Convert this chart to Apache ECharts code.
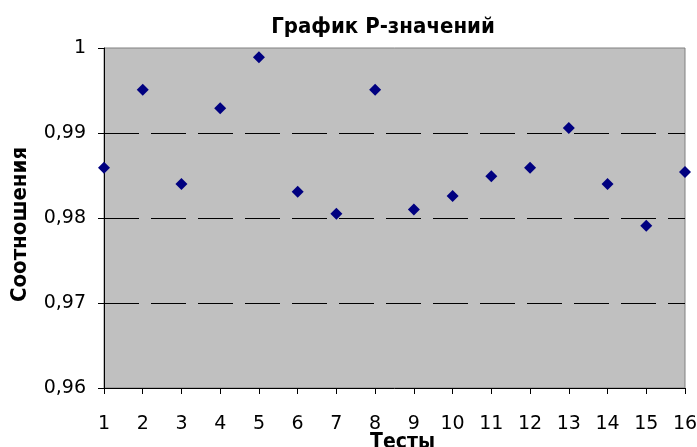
<!DOCTYPE html>
<html>
<head>
<meta charset="utf-8">
<script src="https://cdn.jsdelivr.net/npm/echarts@6/dist/echarts.min.js"></script>
<style>html,body{margin:0;padding:0;background:#fff}#c{width:697px;height:447px}</style>
</head>
<body>
<div id="c"></div>
<script>
var titleText = 'График Р-значений';
var xName = 'Тесты';
var yName = 'Соотношения';
var tests = ['1','2','3','4','5','6','7','8','9','10','11','12','13','14','15','16'];
var pValues = [0.9859, 0.9951, 0.9840, 0.9929, 0.9989, 0.9831, 0.9805, 0.9951, 0.9810, 0.9826, 0.9849, 0.9859, 0.9906, 0.9840, 0.9791, 0.9854];
var yTicks = [0.96, 0.97, 0.98, 0.99, 1];

var chart = echarts.init(document.getElementById('c'), null, {renderer: 'canvas'});
var labelFont = 'DejaVu Sans';
var boldFont = 'DejaVu Sans Condensed, DejaVu Sans';
chart.setOption({
  animation: false,
  backgroundColor: '#ffffff',
  title: {
    text: titleText,
    left: 378,
    textAlign: 'center',
    top: 11,
    textStyle: {fontFamily: boldFont, fontWeight: 'bold', fontSize: 22, color: '#000'}
  },
  grid: {
    left: 104, right: 12, top: 48, bottom: 59,
    containLabel: false, outerBoundsMode: 'none',
    show: true, backgroundColor: '#C0C0C0', borderColor: '#808080', borderWidth: 1
  },
  xAxis: {
    type: 'category',
    data: tests,
    boundaryGap: false,
    name: xName,
    nameLocation: 'middle',
    nameGap: 44,
    nameMoveOverlap: false,
    nameTextStyle: {fontFamily: boldFont, fontWeight: 'bold', fontSize: 21, color: '#000', padding: [0, 0, 0, 16]},
    axisLine: {lineStyle: {color: '#000', width: 1}},
    axisTick: {alignWithLabel: true, length: 6, lineStyle: {color: '#000'}},
    axisLabel: {fontFamily: labelFont, fontSize: 19, color: '#000', margin: 27},
    splitLine: {show: false}
  },
  yAxis: {
    type: 'value',
    min: yTicks[0],
    max: yTicks[yTicks.length - 1],
    interval: 0.01,
    name: yName,
    nameLocation: 'middle',
    nameGap: 73,
    nameMoveOverlap: false,
    nameTextStyle: {fontFamily: boldFont, fontWeight: 'bold', fontSize: 22, color: '#000', padding: [0, 13, 0, 0]},
    axisLine: {show: true, lineStyle: {color: '#000', width: 1}},
    axisTick: {show: true, length: 6, lineStyle: {color: '#000'}},
    axisLabel: {
      fontFamily: labelFont, fontSize: 19, color: '#000', margin: 18,
      formatter: function (v) { return String(Math.round(v * 100) / 100).replace('.', ','); }
    },
    splitLine: {show: true, showMinLine: false, showMaxLine: false, lineStyle: {color: '#000', width: 1, type: [35, 12]}}
  },
  series: [{
    type: 'scatter',
    data: pValues,
    symbol: 'diamond',
    symbolSize: 12,
    itemStyle: {color: '#000080', opacity: 1}
  }]
});
</script>
</body>
</html>
